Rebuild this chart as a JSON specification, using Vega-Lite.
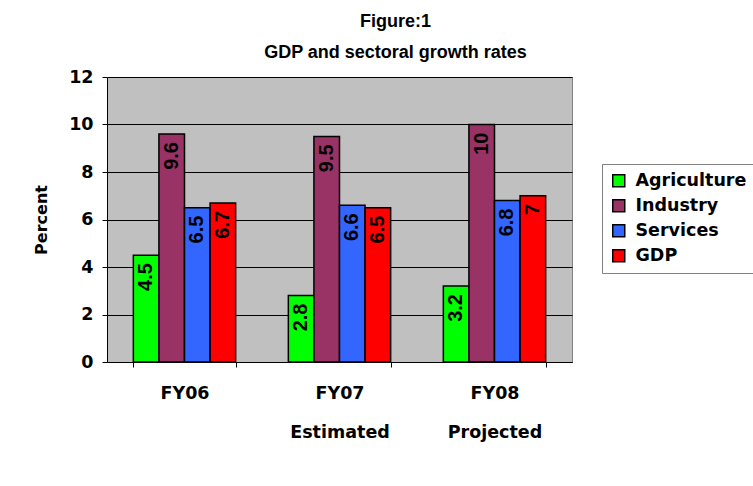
{
  "$schema": "https://vega.github.io/schema/vega-lite/v6.json",
  "width": 465,
  "height": 285,
  "autosize": {"type": "none"},
  "padding": {"left": 107, "top": 77, "right": 181, "bottom": 124},
  "background": "white",
  "title": {
    "text": ["Figure:1", "GDP and sectoral growth rates"],
    "anchor": "middle",
    "dx": 56,
    "font": "Liberation Sans",
    "fontSize": 18,
    "fontWeight": "bold",
    "color": "black",
    "lineHeight": 31,
    "offset": 6
  },
  "data": {
    "values": [
      {"year": "FY06", "sector": "Agriculture", "value": 4.5},
      {"year": "FY06", "sector": "Industry", "value": 9.6},
      {"year": "FY06", "sector": "Services", "value": 6.5},
      {"year": "FY06", "sector": "GDP", "value": 6.7},
      {"year": "FY07", "sector": "Agriculture", "value": 2.8},
      {"year": "FY07", "sector": "Industry", "value": 9.5},
      {"year": "FY07", "sector": "Services", "value": 6.6},
      {"year": "FY07", "sector": "GDP", "value": 6.5},
      {"year": "FY08", "sector": "Agriculture", "value": 3.2},
      {"year": "FY08", "sector": "Industry", "value": 10},
      {"year": "FY08", "sector": "Services", "value": 6.8},
      {"year": "FY08", "sector": "GDP", "value": 7}
    ]
  },
  "encoding": {
    "x": {
      "field": "year",
      "type": "nominal",
      "sort": ["FY06", "FY07", "FY08"],
      "scale": {"paddingInner": 0.34, "paddingOuter": 0.17},
      "axis": {
        "title": null,
        "labelAngle": 0,
        "labelExpr": "datum.label == 'FY07' ? ['FY07', 'Estimated'] : datum.label == 'FY08' ? ['FY08', 'Projected'] : datum.label",
        "labelFont": "DejaVu Sans",
        "labelFontSize": 17.5,
        "labelFontWeight": "bold",
        "labelColor": "black",
        "labelBaseline": "top",
        "labelLineHeight": 39,
        "labelPadding": 17,
        "tickBand": "extent",
        "tickSize": 5,
        "tickColor": "black",
        "domainColor": "black",
        "domainWidth": 1,
        "grid": false
      }
    },
    "xOffset": {
      "field": "sector",
      "type": "nominal",
      "sort": ["Agriculture", "Industry", "Services", "GDP"],
      "scale": {"paddingInner": 0, "paddingOuter": 0}
    },
    "y": {
      "field": "value",
      "type": "quantitative",
      "scale": {"domain": [0, 12], "nice": false},
      "axis": {
        "title": "Percent",
        "titleFont": "DejaVu Sans",
        "titleFontSize": 16,
        "titleFontWeight": "bold",
        "titleColor": "black",
        "titlePadding": 19,
        "values": [0, 2, 4, 6, 8, 10, 12],
        "labelFont": "DejaVu Sans",
        "labelFontSize": 17.5,
        "labelFontWeight": "bold",
        "labelColor": "black",
        "labelPadding": 9,
        "tickSize": 5,
        "tickColor": "black",
        "domainColor": "black",
        "grid": true,
        "gridColor": "black",
        "gridWidth": 1
      }
    }
  },
  "layer": [
    {
      "mark": {"type": "bar", "stroke": "black", "strokeWidth": 1.5},
      "encoding": {
        "color": {
          "field": "sector",
          "type": "nominal",
          "scale": {
            "domain": ["Agriculture", "Industry", "Services", "GDP"],
            "range": ["#00FF00", "#993366", "#3366FF", "#FF0000"]
          },
          "legend": {
            "title": null,
            "orient": "none",
            "legendX": 495,
            "legendY": 87,
            "symbolType": "square",
            "symbolSize": 144,
            "symbolStrokeColor": "black",
            "symbolStrokeWidth": 1.5,
            "labelFont": "DejaVu Sans",
            "labelFontSize": 17.5,
            "labelFontWeight": "bold",
            "labelColor": "black",
            "labelOffset": 8,
            "rowPadding": 6,
            "padding": 8,
            "strokeColor": "#808080",
            "fillColor": "white"
          }
        }
      }
    },
    {
      "mark": {
        "type": "text",
        "angle": 270,
        "align": "right",
        "baseline": "middle",
        "dx": -8,
        "font": "Liberation Sans",
        "fontSize": 20,
        "fontWeight": "bold",
        "color": "black"
      },
      "encoding": {
        "text": {"field": "value", "type": "quantitative"}
      }
    }
  ],
  "config": {
    "view": {"fill": "#C0C0C0", "stroke": "#808080", "strokeWidth": 1}
  }
}
